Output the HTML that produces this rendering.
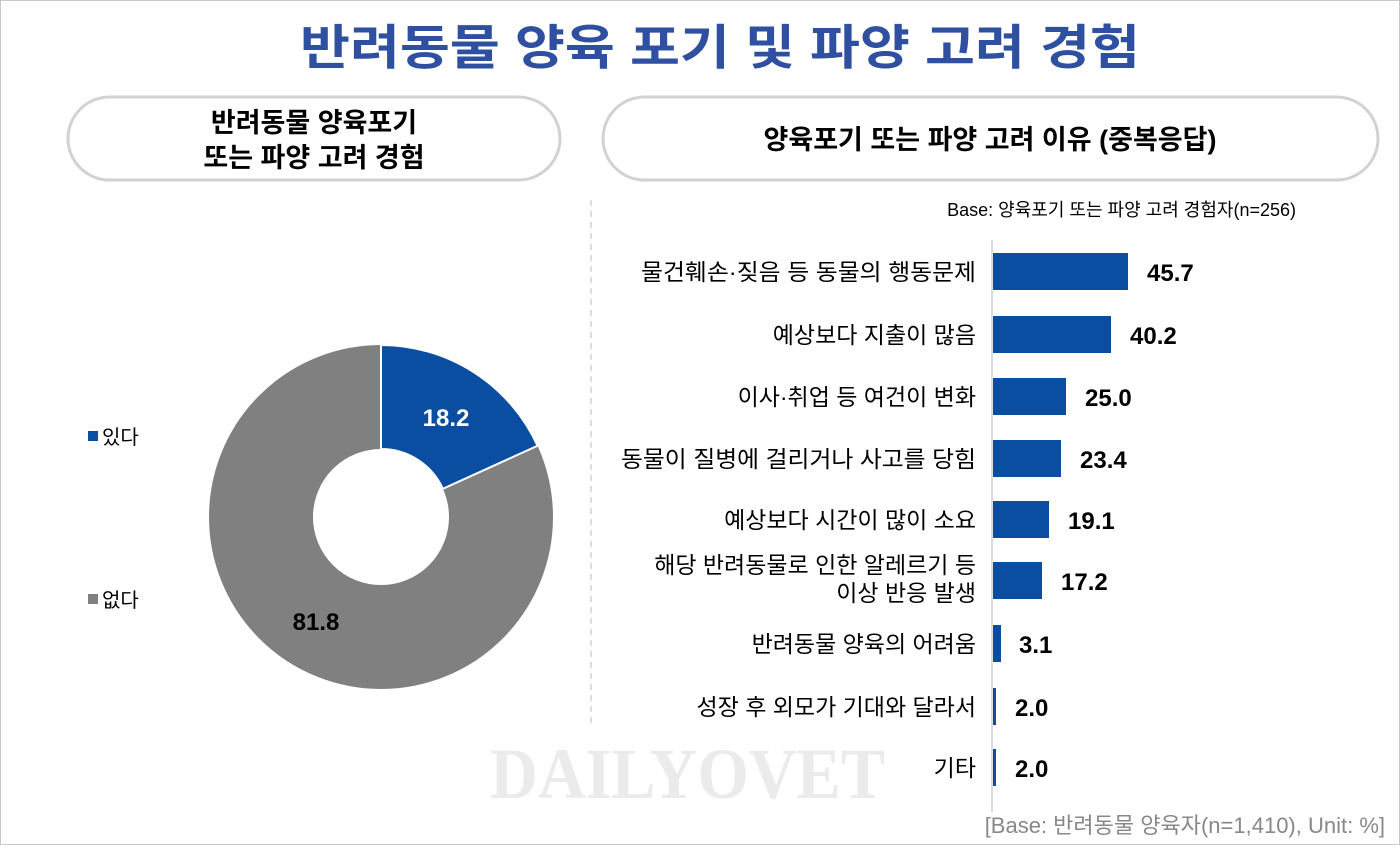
<!DOCTYPE html>
<html><head><meta charset="utf-8"><style>
html,body{margin:0;padding:0;background:#fff}
svg{display:block}
text{font-family:"Liberation Sans","Noto Sans CJK KR",sans-serif}
text.wm{font-family:"Liberation Serif",serif}
</style></head><body>
<svg width="1400" height="845" viewBox="0 0 1400 845">
<rect x="0.5" y="0.5" width="1399" height="844" fill="#fff" stroke="#c8c8c8"/>
<text x="720" y="64" text-anchor="middle" font-size="48" font-weight="bold" fill="#2f50a0" textLength="840" lengthAdjust="spacingAndGlyphs">반려동물 양육 포기 및 파양 고려 경험</text>
<rect x="68" y="97" width="492" height="83" rx="41.5" fill="#fff" stroke="#d2d2d2" stroke-width="3"/>
<text x="314" y="132" text-anchor="middle" font-size="27" font-weight="bold" fill="#000">반려동물 양육포기</text>
<text x="314" y="167" text-anchor="middle" font-size="27" font-weight="bold" fill="#000">또는 파양 고려 경험</text>
<rect x="603" y="97" width="775" height="83" rx="41.5" fill="#fff" stroke="#d2d2d2" stroke-width="3"/>
<text x="990" y="149" text-anchor="middle" font-size="27" font-weight="bold" fill="#000">양육포기 또는 파양 고려 이유 (중복응답)</text>
<line x1="591" y1="200" x2="591" y2="725" stroke="#bbb" stroke-dasharray="6,5"/>
<text x="1296" y="216" text-anchor="end" font-size="18" fill="#000">Base: 양육포기 또는 파양 고려 경험자(n=256)</text>
<text class="wm" x="490" y="798" font-size="72" font-weight="bold" fill="#ebebeb" textLength="395" lengthAdjust="spacingAndGlyphs">DAILYOVET</text>
<line x1="992" y1="240" x2="992" y2="812" stroke="#bbb"/>
<g font-size="23" fill="#000" text-anchor="end">
<text x="976" y="280" textLength="335" lengthAdjust="spacingAndGlyphs">물건훼손·짖음 등 동물의 행동문제</text>
<text x="976" y="343">예상보다 지출이 많음</text>
<text x="976" y="405">이사·취업 등 여건이 변화</text>
<text x="976" y="467" textLength="355" lengthAdjust="spacingAndGlyphs">동물이 질병에 걸리거나 사고를 당힘</text>
<text x="976" y="528">예상보다 시간이 많이 소요</text>
<text x="976" y="573">해당 반려동물로 인한 알레르기 등</text>
<text x="976" y="601">이상 반응 발생</text>
<text x="976" y="652">반려동물 양육의 어려움</text>
<text x="976" y="715">성장 후 외모가 기대와 달라서</text>
<text x="976" y="776">기타</text>
</g>
<g fill="#0a4ea2">
<rect x="993" y="253" width="135" height="37"/>
<rect x="993" y="316" width="118" height="37"/>
<rect x="993" y="378" width="73" height="37"/>
<rect x="993" y="440" width="68" height="37"/>
<rect x="993" y="501" width="56" height="37"/>
<rect x="993" y="562" width="49" height="37"/>
<rect x="993" y="625" width="8" height="37"/>
<rect x="993" y="688" width="3" height="37"/>
<rect x="993" y="749" width="3" height="37"/>
</g>
<g font-size="24" font-weight="bold" fill="#000">
<text x="1147" y="281">45.7</text>
<text x="1130" y="344">40.2</text>
<text x="1085" y="406">25.0</text>
<text x="1080" y="468">23.4</text>
<text x="1068" y="529">19.1</text>
<text x="1061" y="590">17.2</text>
<text x="1019" y="653">3.1</text>
<text x="1015" y="716">2.0</text>
<text x="1015" y="777">2.0</text>
</g>
<text x="1385" y="833" text-anchor="end" font-size="22" fill="#888">[Base: 반려동물 양육자(n=1,410), Unit: %]</text>
<circle cx="381" cy="517" r="120" fill="none" stroke="#808080" stroke-width="104"/>
<path id="blue" fill="#0a4ea2" stroke="#fff" stroke-width="2" d=""/>
<script>
(function(){var cx=381,cy=517,R=172,r=68,a=0.182*2*Math.PI;
var x1=cx+R*Math.sin(a),y1=cy-R*Math.cos(a),x2=cx+r*Math.sin(a),y2=cy-r*Math.cos(a);
document.getElementById('blue').setAttribute('d','M'+cx+','+(cy-R)+' A'+R+','+R+' 0 0 1 '+x1+','+y1+' L'+x2+','+y2+' A'+r+','+r+' 0 0 0 '+cx+','+(cy-r)+' Z');})();
</script>
<text x="446" y="426" text-anchor="middle" font-size="24" font-weight="bold" fill="#fff">18.2</text>
<text x="316" y="630" text-anchor="middle" font-size="24" font-weight="bold" fill="#000">81.8</text>
<rect x="88" y="431" width="10" height="10" fill="#0a4ea2"/>
<text x="102" y="444" font-size="20" fill="#000">있다</text>
<rect x="88" y="594" width="10" height="10" fill="#808080"/>
<text x="102" y="607" font-size="20" fill="#000">없다</text>
</svg>
</body></html>
